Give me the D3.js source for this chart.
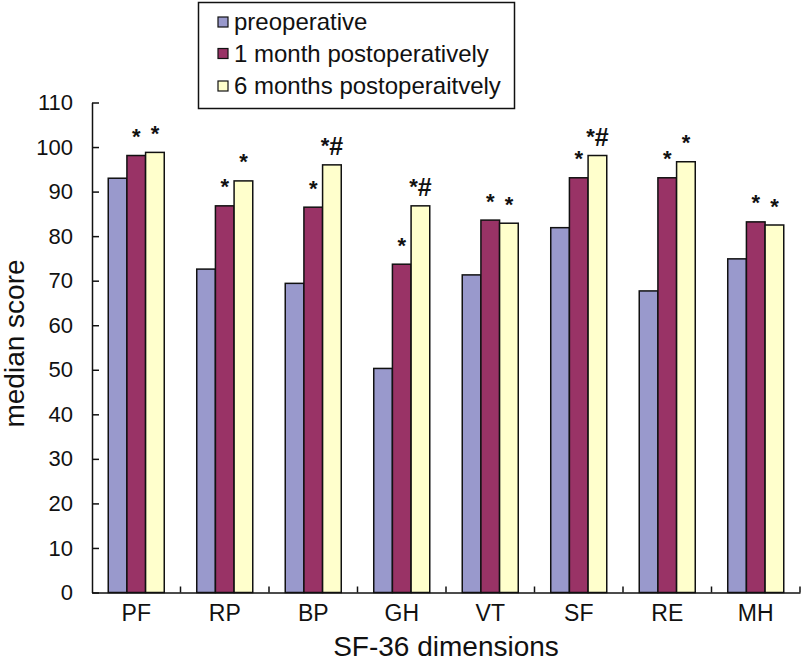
<!DOCTYPE html>
<html>
<head>
<meta charset="utf-8">
<script src="https://cdn.jsdelivr.net/npm/d3@7"></script>
<style>
  body { margin: 0; background: #fff; }
  svg { display: block; font-family: "Liberation Sans", Arial, Helvetica, sans-serif; }
</style>
</head>
<body>
<svg id="chart" width="801" height="665"></svg>
<script>
const categories = ["PF", "RP", "BP", "GH", "VT", "SF", "RE", "MH"];
const seriesNames = ["preoperative", "1 month postoperatively", "6 months postoperaitvely"];
const preoperative = [93.0, 72.6, 69.4, 50.3, 71.3, 81.9, 67.7, 74.9];
const month1 = [98.1, 86.8, 86.5, 73.7, 83.6, 93.1, 93.1, 83.2];
const month6 = [98.8, 92.4, 96.0, 86.8, 82.9, 98.1, 96.7, 82.5];
const marks1 = ["*", "*", "*", "*", "*", "*", "*", "*"];
const marks6 = ["*", "*", "*#", "*#", "*", "*#", "*", "*"];
const yTicks = [0, 10, 20, 30, 40, 50, 60, 70, 80, 90, 100, 110];
const colors = ["#9999CC", "#993366", "#FFFFCC"];

const series = [preoperative, month1, month6];
const marks = [null, marks1, marks6];

const svg = d3.select("#chart");
const mLeft = 92, mRight = 800, mTop = 102.5, mBottom = 592.5;

const x = d3.scaleBand().domain(categories).range([mLeft, mRight]).padding(0);
const xInner = d3.scaleBand().domain(d3.range(3)).range([0, x.bandwidth()]).paddingInner(0).paddingOuter(0.87);
const y = d3.scaleLinear().domain([0, 110]).range([mBottom, mTop]);

// bars
categories.forEach((c, i) => {
  const g = svg.append("g").attr("transform", `translate(${x(c)},0)`);
  series.forEach((s, k) => {
    g.append("rect")
      .attr("x", xInner(k))
      .attr("y", y(s[i]))
      .attr("width", xInner.bandwidth())
      .attr("height", y(0) - y(s[i]))
      .attr("fill", colors[k])
      .attr("stroke", "#111")
      .attr("stroke-width", 1.5);
    if (marks[k]) {
      const t = g.append("text")
        .attr("x", xInner(k) + xInner.bandwidth() / 2)
        .attr("y", y(s[i]) - 11.5)
        .attr("text-anchor", "middle")
        .attr("font-weight", "bold")
        .attr("fill", "#111");
      const m = marks[k][i];
      t.append("tspan").attr("font-size", 22).text("*");
      if (m.length > 1) {
        t.append("tspan").attr("font-size", 25).attr("dy", 2).text(m.slice(1));
      }
    }
  });
});

// y axis
const yAxis = d3.axisLeft(y).tickValues(yTicks).tickSize(-7).tickPadding(19).tickSizeOuter(0);
const ya = svg.append("g").attr("transform", `translate(${mLeft},0)`).call(yAxis);
ya.select(".domain").attr("stroke", "#111").attr("stroke-width", 1.5);
ya.selectAll(".tick line").attr("stroke", "#111").attr("stroke-width", 1.5);
ya.selectAll(".tick text").attr("font-size", 22).attr("fill", "#111")
  .attr("font-family", "Liberation Sans, Arial, sans-serif");

// x axis
const xAxis = d3.axisBottom(x).tickSize(0).tickPadding(12);
const xa = svg.append("g").attr("transform", `translate(0,${mBottom})`).call(xAxis);
xa.select(".domain").attr("stroke", "#111").attr("stroke-width", 1.5);
xa.selectAll(".tick text").attr("font-size", 23).attr("fill", "#111")
  .attr("font-family", "Liberation Sans, Arial, sans-serif");
// boundary ticks between categories
const bounds = categories.map(c => x(c)).slice(1).concat([mRight]);
svg.append("g").selectAll("line").data(bounds).join("line")
  .attr("x1", d => d).attr("x2", d => d)
  .attr("y1", mBottom).attr("y2", mBottom - 6)
  .attr("stroke", "#111").attr("stroke-width", 1.5);

// axis titles
svg.append("text")
  .attr("x", (mLeft + mRight) / 2).attr("y", 656)
  .attr("text-anchor", "middle").attr("font-size", 28).attr("fill", "#111")
  .text("SF-36 dimensions");
svg.append("text")
  .attr("transform", `translate(24,${(mTop + mBottom) / 2 - 4}) rotate(-90)`)
  .attr("text-anchor", "middle").attr("font-size", 28).attr("fill", "#111")
  .text("median score");

// legend
const lg = svg.append("g");
lg.append("rect").attr("x", 198.5).attr("y", 2.5).attr("width", 316).attr("height", 106)
  .attr("fill", "#fff").attr("stroke", "#111").attr("stroke-width", 1.5);
const rowY = [22, 53.5, 86];
seriesNames.forEach((n, k) => {
  lg.append("rect").attr("x", 218).attr("y", rowY[k] - 5).attr("width", 10).attr("height", 10)
    .attr("fill", colors[k]).attr("stroke", "#111").attr("stroke-width", 1.2);
  lg.append("text").attr("x", 234).attr("y", rowY[k]).attr("dy", "0.35em")
    .attr("font-size", 24).attr("fill", "#111").text(n);
});
</script>
</body>
</html>
